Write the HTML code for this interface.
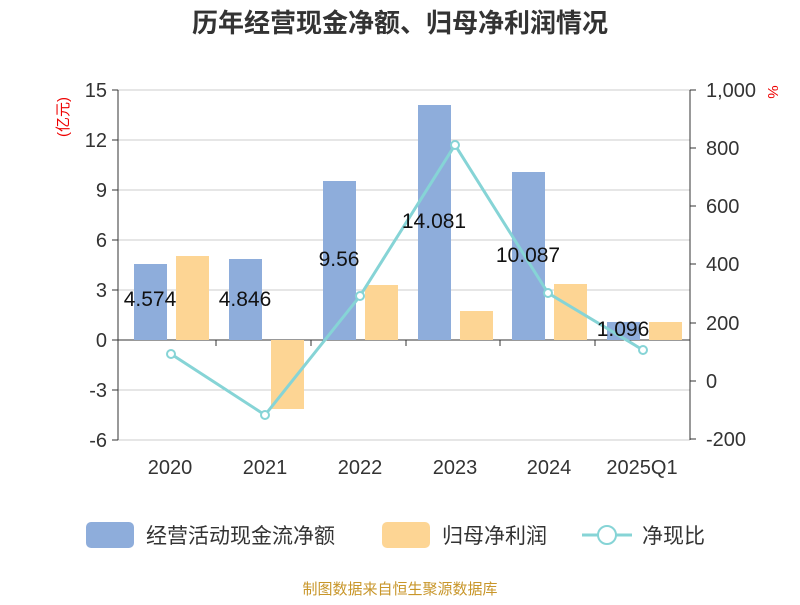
<!DOCTYPE html>
<html><head><meta charset="utf-8"><style>
body{margin:0;background:#fff}
svg text{font-family:"Liberation Sans","Noto Sans CJK SC",sans-serif}
</style></head><body>
<svg width="800" height="600" viewBox="0 0 800 600">
<text x="400" y="32" text-anchor="middle" font-size="26" font-weight="bold" fill="#333">历年经营现金净额、归母净利润情况</text>
<g stroke="#ccc" stroke-width="1">
<line x1="118" x2="690" y1="90" y2="90"/><line x1="118" x2="690" y1="140" y2="140"/>
<line x1="118" x2="690" y1="190" y2="190"/><line x1="118" x2="690" y1="240" y2="240"/>
<line x1="118" x2="690" y1="290" y2="290"/><line x1="118" x2="690" y1="390" y2="390"/>
<line x1="118" x2="690" y1="440" y2="440"/>
</g>
<g stroke="#333" stroke-width="1">
<line x1="118" x2="118" y1="90" y2="440"/><line x1="690" x2="690" y1="90" y2="440"/>
<line x1="118" x2="690" y1="340" y2="340"/>
<line x1="112" x2="118" y1="90" y2="90"/><line x1="112" x2="118" y1="140" y2="140"/><line x1="112" x2="118" y1="190" y2="190"/><line x1="112" x2="118" y1="240" y2="240"/><line x1="112" x2="118" y1="290" y2="290"/><line x1="112" x2="118" y1="340" y2="340"/><line x1="112" x2="118" y1="390" y2="390"/><line x1="112" x2="118" y1="440" y2="440"/>
<line x1="690" x2="696" y1="90" y2="90"/><line x1="690" x2="696" y1="148" y2="148"/><line x1="690" x2="696" y1="206" y2="206"/><line x1="690" x2="696" y1="264" y2="264"/><line x1="690" x2="696" y1="323" y2="323"/><line x1="690" x2="696" y1="381" y2="381"/><line x1="690" x2="696" y1="439" y2="439"/>
<line x1="216" x2="216" y1="340" y2="346"/><line x1="311" x2="311" y1="340" y2="346"/><line x1="406" x2="406" y1="340" y2="346"/><line x1="500" x2="500" y1="340" y2="346"/><line x1="595" x2="595" y1="340" y2="346"/>
</g>
<g font-size="20" fill="#333" text-anchor="end">
<text x="107" y="97">15</text><text x="107" y="147">12</text><text x="107" y="197">9</text><text x="107" y="247">6</text><text x="107" y="297">3</text><text x="107" y="347">0</text><text x="107" y="397">-3</text><text x="107" y="447">-6</text>
</g>
<g font-size="20" fill="#333" text-anchor="start">
<text x="706" y="97">1,000</text><text x="706" y="155">800</text><text x="706" y="213">600</text><text x="706" y="271">400</text><text x="706" y="330">200</text><text x="706" y="388">0</text><text x="706" y="446">-200</text>
</g>
<text x="68" y="117" font-size="15" fill="#e00" text-anchor="middle" transform="rotate(-90 68 117)">(亿元)</text>
<text x="768" y="92" font-size="15" fill="#e00" text-anchor="middle" transform="rotate(90 768 92)">%</text>
<g font-size="20" fill="#333" text-anchor="middle">
<text x="170" y="474">2020</text><text x="265" y="474">2021</text><text x="360" y="474">2022</text><text x="455" y="474">2023</text><text x="549" y="474">2024</text><text x="642" y="474">2025Q1</text>
</g>
<g fill="#8eaddb">
<rect x="134" y="264" width="33" height="76"/><rect x="229" y="259" width="33" height="81"/><rect x="323" y="181" width="33" height="159"/><rect x="418" y="105" width="33" height="235"/><rect x="512" y="172" width="33" height="168"/><rect x="607" y="322" width="33" height="18"/>
</g>
<g fill="#fdd594">
<rect x="176" y="256" width="33" height="84"/><rect x="271" y="340" width="33" height="69"/><rect x="365" y="285" width="33" height="55"/><rect x="460" y="311" width="33" height="29"/><rect x="554" y="284" width="33" height="56"/><rect x="649" y="322" width="33" height="18"/>
</g>
<polyline points="171,354 265,415 360,296 455,145 548,293 643,350" fill="none" stroke="#86d4d6" stroke-width="3"/>
<g fill="#fff" stroke="#86d4d6" stroke-width="2">
<circle cx="171" cy="354" r="4"/><circle cx="265" cy="415" r="4"/><circle cx="360" cy="296" r="4"/><circle cx="455" cy="145" r="4"/><circle cx="548" cy="293" r="4"/><circle cx="643" cy="350" r="4"/>
</g>
<g font-size="21" fill="#111" text-anchor="middle">
<text x="150" y="306">4.574</text><text x="245" y="306">4.846</text><text x="339" y="266">9.56</text><text x="434" y="228">14.081</text><text x="528" y="262">10.087</text><text x="623" y="336">1.096</text>
</g>
<rect x="86" y="522" width="48" height="26" rx="5" fill="#8eaddb"/>
<text x="146" y="543" font-size="21" fill="#333">经营活动现金流净额</text>
<rect x="382" y="522" width="48" height="26" rx="5" fill="#fdd594"/>
<text x="442" y="543" font-size="21" fill="#333">归母净利润</text>
<line x1="582" x2="632" y1="535" y2="535" stroke="#86d4d6" stroke-width="3"/>
<circle cx="607" cy="535" r="9" fill="#fff" stroke="#86d4d6" stroke-width="2"/>
<text x="642" y="543" font-size="21" fill="#333">净现比</text>
<text x="400" y="594" font-size="15" fill="#c8962a" text-anchor="middle">制图数据来自恒生聚源数据库</text>
</svg>
</body></html>
